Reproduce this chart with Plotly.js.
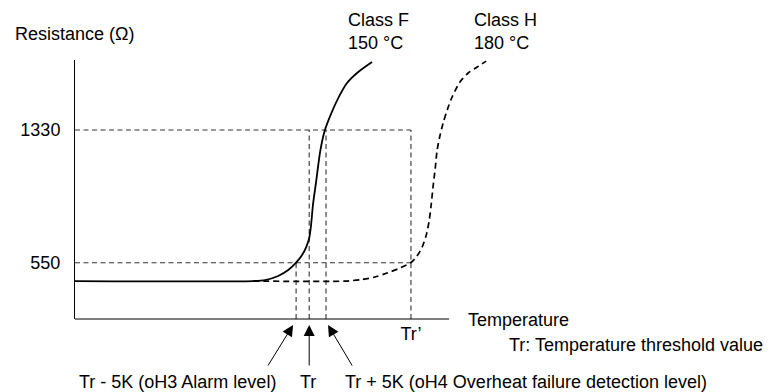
<!DOCTYPE html>
<html>
<head>
<meta charset="utf-8">
<script src="https://cdn.plot.ly/plotly-3.0.1.min.js"></script>
<style>html,body{margin:0;padding:0;background:#fff;}#chart{width:774px;height:392px;}</style>
</head>
<body>
<div id="chart"></div>
<script>
// Temperature axis in arbitrary units, resistance in ohms
const classF_T = [0, 47.6, 50.8, 54.3, 57.0, 59.1, 60.7, 61.8, 62.6, 63.1, 63.6, 64.4, 65.6, 66.8, 68.2, 70.1, 72.7, 75.7, 79.4];
const classF_R = [442, 442, 448, 472, 507, 550, 595, 642, 695, 772, 889, 1018, 1212, 1330, 1412, 1506, 1606, 1671, 1730];

const classH_T = [47.6, 72.2, 76.7, 80.2, 83.4, 86.9, 89.8, 91.4, 92.8, 93.9, 94.7, 95.2, 95.7, 96.3, 96.8, 97.6, 98.4, 99.5, 100.8, 102.9, 105.1, 107.5, 109.9];
const classH_R = [442, 442, 451, 466, 489, 519, 551, 589, 642, 713, 801, 889, 995, 1107, 1212, 1301, 1371, 1448, 1524, 1612, 1665, 1700, 1735];

const thresholdNames = ["Tr - 5K", "Tr", "Tr + 5K", "Tr’"];
const thresholdT = [59.1, 62.6, 67.1, 89.8];
const levelR = [550, 1330];
const levelLabels = ["550", "1330"];

const rMin = 219, rMax = 1741.5;
const tMax = 113.6, tAxisEnd = 100;

const FONT = "Liberation Sans, Arial, sans-serif";
const guideStyle = {color: "#333333", width: 1.1, dash: "5px,3.5px"};

const traces = [];
// horizontal guides at 550 and 1330 up to Tr'
levelR.forEach(r => {
  traces.push({x: [0, thresholdT[3]], y: [r, r], mode: "lines", line: guideStyle, hoverinfo: "skip"});
});
// vertical guides
traces.push({x: [thresholdT[0], thresholdT[0]], y: [rMin, levelR[0]], mode: "lines", line: guideStyle, hoverinfo: "skip"});
[1, 2, 3].forEach(i => {
  traces.push({x: [thresholdT[i], thresholdT[i]], y: [rMin, levelR[1]], mode: "lines", line: guideStyle, hoverinfo: "skip"});
});
// Class H curve
traces.push({x: classH_T, y: classH_R, mode: "lines", line: {color: "#000", width: 1.7, dash: "6px,4px", shape: "spline", smoothing: 0.8}, hoverinfo: "skip"});
// Class F curve
traces.push({x: classF_T, y: classF_R, mode: "lines", line: {color: "#000", width: 1.8, shape: "spline", smoothing: 0.8}, hoverinfo: "skip"});

const L = 75, T = 60, W = 425, H = 259;
const px = v => (v - L) / W;
const py = v => (T + H - v) / H;

const ann = (text, x, y, xanchor) => ({text, x: px(x), y: py(y), xref: "paper", yref: "paper", xanchor, yanchor: "middle", showarrow: false, align: "left", font: {family: FONT, size: 18, color: "#000"}});

const annotations = [
  ann("Resistance (Ω)", 13, 34, "left"),
  ann("Class F<br>150 °C", 346, 31, "left"),
  ann("Class H<br>180 °C", 472, 31, "left"),
  ann("Temperature", 466, 320, "left"),
  ann("Tr: Temperature threshold value", 507, 345, "left"),
  ann("Tr - 5K (oH3 Alarm level)", 77, 382, "left"),
  ann("Tr", 308, 382, "center"),
  ann("Tr + 5K (oH4 Overheat failure detection level)", 343, 382, "left")
];
const arrowOffsets = [[-3, -26], [0, 0], [2, 25]];
[0, 1, 2].forEach(i => {
  annotations.push({
    x: thresholdT[i], y: py(325), xref: "x", yref: "paper", xshift: arrowOffsets[i][0],
    text: "", showarrow: true, arrowhead: 2, arrowsize: 2.2, arrowwidth: 1, arrowcolor: "#000",
    ax: arrowOffsets[i][1], ay: 42
  });
});

const layout = {
  width: 774, height: 392,
  margin: {l: L, r: 774 - L - W, t: T, b: 392 - T - H},
  paper_bgcolor: "#fff", plot_bgcolor: "#fff",
  showlegend: false,
  font: {family: FONT, size: 18, color: "#000"},
  xaxis: {range: [0, tMax], showgrid: false, zeroline: false, showline: false,
    tickvals: [thresholdT[3]], ticktext: [thresholdNames[3]], ticks: "", ticklabelstandoff: 2,
    tickfont: {family: FONT, size: 18, color: "#000"}},
  yaxis: {range: [rMin, rMax], showgrid: false, zeroline: false, showline: true, linecolor: "#000", linewidth: 1,
    tickvals: levelR, ticktext: levelLabels, ticks: "", ticklabelstandoff: 10,
    tickfont: {family: FONT, size: 18, color: "#000"}},
  shapes: [{type: "line", xref: "x", yref: "paper", x0: 0, x1: tAxisEnd, y0: 0, y1: 0, line: {color: "#000", width: 1}}],
  annotations
};

Plotly.newPlot("chart", traces, layout, {staticPlot: true, displayModeBar: false});
</script>
</body>
</html>
